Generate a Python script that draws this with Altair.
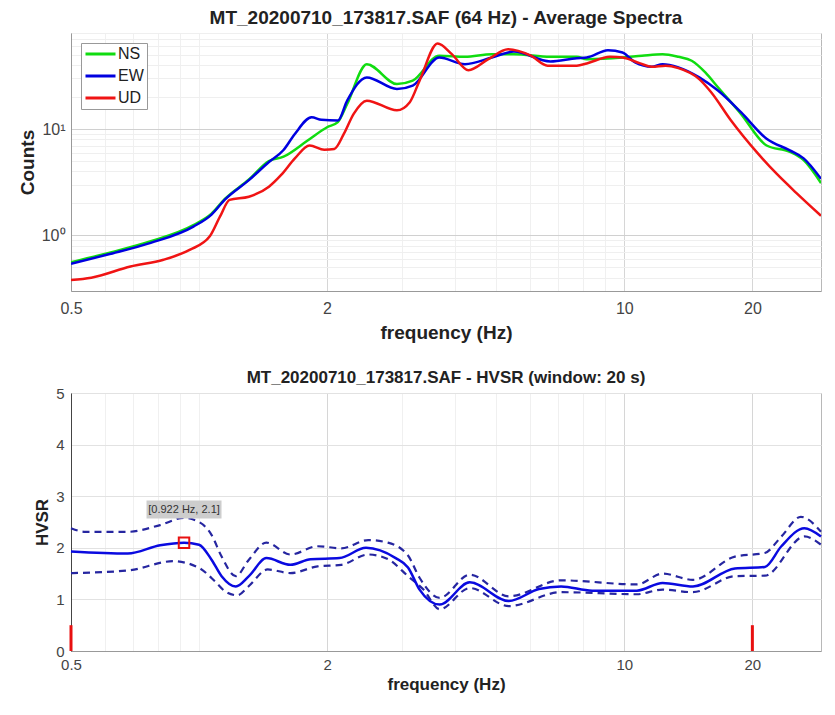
import altair as alt
import pandas as pd

# ---------------- Average spectra (Counts) ----------------
ns_f = [0.5, 0.61, 0.77, 0.97, 1.07, 1.15, 1.31, 1.46, 1.58, 1.80, 2.0, 2.12, 2.23, 2.48, 2.92, 3.18,
        3.67, 4.22, 4.88, 5.5, 6.7, 7.73, 8.16, 9.9, 11.0, 12.3, 13.4, 14.4, 15.5, 16.6, 18.8, 21.6,
        24.5, 26.4, 29.0]
ns_c = [0.56, 0.68, 0.88, 1.25, 1.6, 2.2, 3.35, 5.0, 5.5, 7.8, 10.4, 11.6, 17.2, 40.7, 26.5, 28.5,
        48.9, 47.8, 50.6, 50.6, 47.8, 47.8, 45.4, 47.0, 48.9, 50.6, 47.8, 43.9, 34.1, 24.7, 13.9, 7.0,
        6.1, 5.1, 3.1]

ew_f = [0.5, 0.61, 0.77, 0.97, 1.07, 1.15, 1.31, 1.46, 1.58, 1.68, 1.84, 1.94, 2.12, 2.23, 2.48, 2.92,
        3.18, 3.67, 4.22, 4.88, 5.5, 6.7, 7.73, 8.16, 9.15, 9.9, 10.6, 11.6, 12.3, 13.4, 15.0, 16.6,
        18.8, 21.6, 24.5, 26.4, 29.0]
ew_c = [0.54, 0.66, 0.85, 1.21, 1.57, 2.17, 3.31, 4.9, 6.35, 9.0, 12.9, 12.2, 12.0, 18.5, 30.6, 23.8,
        25.6, 47.0, 40.7, 47.0, 53.6, 43.2, 46.4, 47.0, 55.0, 52.4, 42.3, 38.5, 40.7, 38.0, 30.6, 23.0,
        14.4, 8.1, 6.3, 5.3, 3.4]

ud_f = [0.5, 0.558, 0.69, 0.825, 0.95, 1.06, 1.12, 1.18, 1.31, 1.46, 1.56, 1.68, 1.82, 1.97, 2.08,
        2.19, 2.31, 2.48, 2.92, 3.13, 3.3, 3.64, 3.93, 4.3, 4.79, 5.33, 6.03, 6.6, 7.73, 8.16, 9.25,
        9.9, 10.9, 11.6, 12.5, 13.4, 15.0, 16.0, 17.8, 20.6, 22.8, 25.4, 29.0]
ud_c = [0.38, 0.40, 0.51, 0.59, 0.73, 0.98, 1.5, 2.16, 2.31, 2.87, 3.7, 5.3, 7.0, 6.4, 6.5,
        9.0, 13.9, 18.5, 15.0, 17.9, 28.5, 63.6, 50.6, 35.8, 45.4, 56.3, 48.9, 39.4, 39.4, 41.4, 47.8,
        47.0, 41.4, 38.5, 39.4, 37.4, 29.5, 22.2, 12.1, 5.9, 3.8, 2.5, 1.53]

components = ["NS", "EW", "UD"]
comp_colors = ["#10dc10", "#0000e0", "#f01414"]

# ---------------- HVSR ----------------
h_f = [0.5, 0.68, 0.81, 0.922, 1.0, 1.07, 1.13, 1.22, 1.31, 1.44, 1.64, 1.83, 2.14, 2.47, 2.9, 3.1,
       3.3, 3.68, 4.33, 5.35, 6.3, 7.1, 8.4, 10.7, 12.3, 14.5, 18.2, 21.4, 23.4, 26.5, 29.0]
h_v = [1.93, 1.89, 2.05, 2.1, 2.06, 1.77, 1.45, 1.25, 1.45, 1.80, 1.67, 1.78, 1.80, 2.0, 1.80, 1.62,
       1.19, 0.90, 1.33, 0.97, 1.20, 1.25, 1.17, 1.17, 1.32, 1.25, 1.60, 1.63, 2.03, 2.38, 2.22]

up_f = [0.5, 0.54, 0.68, 0.81, 0.92, 1.0, 1.07, 1.13, 1.22, 1.31, 1.44, 1.64, 1.9, 2.16, 2.5, 2.78,
        3.1, 3.3, 3.68, 4.33, 5.35, 7.1, 10.7, 12.3, 14.5, 18.2, 21.4, 23.4, 26.0, 29.0]
up_v = [2.38, 2.31, 2.31, 2.44, 2.58, 2.5, 2.25, 1.83, 1.45, 1.77, 2.10, 1.87, 2.03, 1.99, 2.15, 2.1,
        1.85, 1.42, 1.03, 1.48, 1.06, 1.37, 1.29, 1.5, 1.38, 1.83, 1.90, 2.22, 2.6, 2.31]

lo_f = [0.5, 0.68, 0.87, 1.0, 1.09, 1.15, 1.23, 1.31, 1.45, 1.64, 1.9, 2.16, 2.5, 2.78, 3.1, 3.37,
        3.68, 4.33, 5.35, 7.1, 10.7, 12.3, 14.5, 18.2, 21.4, 26.5, 29.0]
lo_v = [1.51, 1.56, 1.74, 1.61, 1.35, 1.16, 1.08, 1.26, 1.58, 1.51, 1.64, 1.67, 1.87, 1.78, 1.45, 1.19,
        0.81, 1.22, 0.87, 1.14, 1.10, 1.19, 1.14, 1.45, 1.46, 2.22, 2.06]

peak_f = [0.922]
peak_v = [2.1]
peak_label = ["[0.922 Hz, 2.1]"]
label_v = [2.74]

range_f = [0.5, 20]
range_lo = [0, 0]
range_hi = [0.5, 0.5]

x_major = [0.5, 2, 10, 20]
x_grid = [0.5, 0.6, 0.7, 0.8, 0.9, 1, 2, 3, 4, 5, 6, 7, 8, 9, 10, 20]
y_grid_top = [0.3, 0.4, 0.5, 0.6, 0.7, 0.8, 0.9, 1, 2, 3, 4, 5, 6, 7, 8, 9,
              10, 20, 30, 40, 50, 60, 70, 80]
hv_ticks = [0, 1, 2, 3, 4, 5]

# ---------------- tables ----------------
rows = []
for name, fs, cs in (("NS", ns_f, ns_c), ("EW", ew_f, ew_c), ("UD", ud_f, ud_c)):
    for f, c in zip(fs, cs):
        rows.append({"f": f, "c": c, "comp": name})
spec = pd.DataFrame(rows)

hv = pd.DataFrame({"f": h_f, "v": h_v})
up = pd.DataFrame({"f": up_f, "v": up_v})
lo = pd.DataFrame({"f": lo_f, "v": lo_v})
pk = pd.DataFrame({"f": peak_f, "v": peak_v, "lv": label_v, "txt": peak_label})
rg = pd.DataFrame({"f": range_f, "y0": range_lo, "y1": range_hi})

FONT = "Liberation Sans"
major_test = "indexof([0.5,2,10,20], datum.value) >= 0"
xscale = alt.Scale(type="log", domain=[0.5, 29], nice=False)
PLOT_W = 750
PLOT_H = 258


def x_axis(title_size, label_size, label_pad, title_pad):
    return alt.Axis(
        values=x_grid,
        labelExpr=major_test + " ? format(datum.value, '~g') : ''",
        labelOverlap=False, labelFlush=False, ticks=False,
        labelFontSize=label_size, labelColor="#444", labelPadding=label_pad,
        title="frequency (Hz)", titleFontSize=title_size, titleFontWeight="bold",
        titleColor="#222", titlePadding=title_pad,
        domainColor="#999",
        gridColor={"condition": {"test": major_test, "value": "#d6d6d6"}, "value": "#f0f0f0"},
    )


# ---------------- top chart ----------------
top = alt.Chart(spec).mark_line(strokeWidth=2.5, clip=True, interpolate="monotone").encode(
    x=alt.X("f:Q", scale=xscale, axis=x_axis(19, 16, 9, 7)),
    y=alt.Y("c:Q", scale=alt.Scale(type="log", domain=[0.3, 80], nice=False),
            axis=alt.Axis(
                values=y_grid_top,
                labelExpr="datum.value == 1 ? '10⁰' : datum.value == 10 ? '10¹' : ''",
                labelOverlap=False, ticks=False, labelFontSize=16, labelColor="#444",
                labelPadding=6, title="Counts", titleFontSize=19, titleFontWeight="bold",
                titleColor="#222", titlePadding=4, domainColor="#999",
                gridColor={"condition": {"test": "datum.value == 1 || datum.value == 10",
                                         "value": "#d0d0d0"}, "value": "#efefef"},
            )),
    color=alt.Color("comp:N", scale=alt.Scale(domain=components, range=comp_colors),
                    legend=alt.Legend(title=None, orient="top-left", offset=10,
                                      fillColor="white", strokeColor="#999", padding=3,
                                      labelFontSize=16, labelColor="#222", symbolType="stroke",
                                      symbolSize=900, symbolStrokeWidth=3, rowPadding=6,
                                      clipHeight=16, labelOffset=1)),
    order=alt.Order("comp_order:Q"),
).transform_calculate(
    comp_order="indexof(['NS','EW','UD'], datum.comp)"
).properties(
    width=PLOT_W, height=PLOT_H,
    title=alt.Title("MT_20200710_173817.SAF (64 Hz) - Average Spectra", fontSize=19,
                    fontWeight="bold", color="#222", offset=-3),
)

# ---------------- bottom chart ----------------
xb = alt.X("f:Q", scale=xscale, axis=x_axis(17, 15, 6, 4))
yscale_b = alt.Scale(domain=[0, 5], nice=False)
yb_axis = alt.Axis(values=hv_ticks, ticks=False, labelFontSize=15, labelColor="#444",
                   labelPadding=7, title="HVSR", titleFontSize=17, titleFontWeight="bold",
                   titleColor="#222", titlePadding=4, domainColor="#444", gridColor="#e2e2e2")

rules = alt.Chart(rg).mark_rule(color="#e81010", strokeWidth=3).encode(
    x=xb, y=alt.Y("y0:Q", scale=yscale_b, axis=yb_axis), y2="y1:Q")
upper = alt.Chart(up).mark_line(color="#2626a0", strokeWidth=2.2, strokeDash=[7, 5],
                                interpolate="monotone").encode(
    x=xb, y=alt.Y("v:Q", scale=yscale_b, axis=yb_axis))
lower = alt.Chart(lo).mark_line(color="#2626a0", strokeWidth=2.2, strokeDash=[7, 5],
                                interpolate="monotone").encode(
    x=xb, y=alt.Y("v:Q", scale=yscale_b, axis=yb_axis))
mean = alt.Chart(hv).mark_line(color="#0a0ae0", strokeWidth=2.5, interpolate="monotone").encode(
    x=xb, y=alt.Y("v:Q", scale=yscale_b, axis=yb_axis))
marker = alt.Chart(pk).mark_point(shape="square", filled=False, color="#e81010", size=110,
                                  strokeWidth=2, opacity=1).encode(
    x=xb, y=alt.Y("v:Q", scale=yscale_b, axis=yb_axis))
box = alt.Chart(pk).mark_point(shape="M-1,-0.24L1,-0.24L1,0.24L-1,0.24Z", filled=True,
                               color="#cdcdcd", size=5625, opacity=1).encode(
    x=xb, y=alt.Y("lv:Q", scale=yscale_b, axis=yb_axis))
txt = alt.Chart(pk).mark_text(font=FONT, fontSize=11, color="#333", align="center",
                              baseline="middle").encode(
    x=xb, y=alt.Y("lv:Q", scale=yscale_b, axis=yb_axis), text="txt:N")

bottom = alt.layer(rules, upper, lower, mean, marker, box, txt).properties(
    width=PLOT_W, height=PLOT_H,
    title=alt.Title("MT_20200710_173817.SAF - HVSR (window: 20 s)", fontSize=17,
                    fontWeight="bold", color="#222", offset=-1),
)

chart = alt.vconcat(top, bottom, spacing=102, bounds="flush").properties(
    padding={"left": 9, "top": 0, "right": 0, "bottom": 0}
).configure(font=FONT).configure_view(stroke="#b8b8b8")

chart.save("out.html", embed_options={"renderer": "svg", "actions": False})
